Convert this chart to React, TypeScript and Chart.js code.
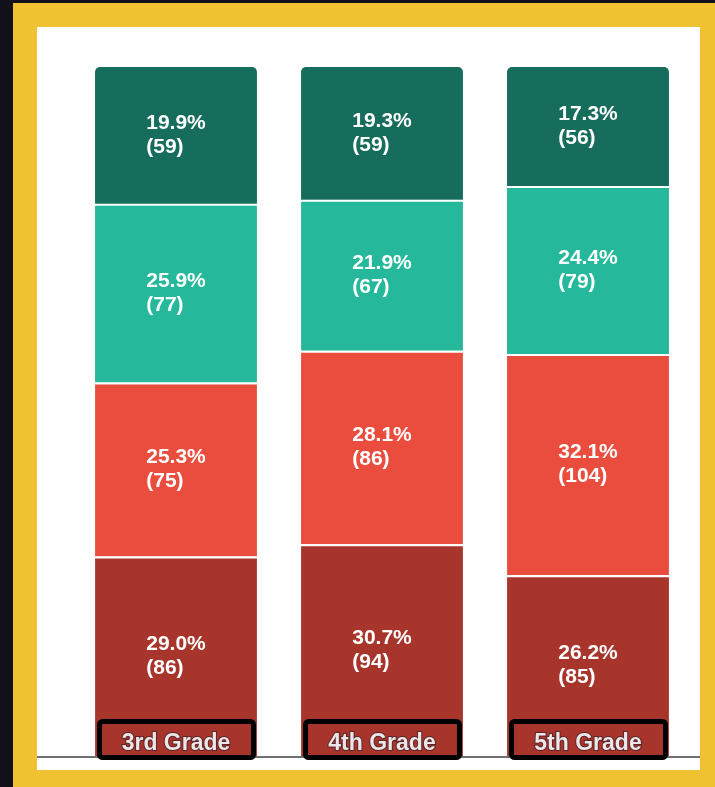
import React, { useEffect, useRef } from "react";
import { Chart, registerables } from "chart.js";

Chart.register(...registerables);

const categories = ["3rd Grade", "4th Grade", "5th Grade"];
const seriesNames = ["Level 1", "Level 2", "Level 3", "Level 4"];
// counts per grade, stacked bottom -> top
const level1Counts = [86, 94, 85];
const level2Counts = [75, 86, 104];
const level3Counts = [77, 67, 79];
const level4Counts = [59, 59, 56];
const seriesColors = ["#a8352b", "#ea4d3d", "#25b89a", "#176d5b"];

const allCounts = [level1Counts, level2Counts, level3Counts, level4Counts];
const totals = categories.map((_, i) => allCounts.reduce((s, arr) => s + arr[i], 0));
const pct = (arr: number[]) => arr.map((v, i) => (v / totals[i]) * 100);

const FONT = '"Liberation Sans", Arial, sans-serif';

const overlayPlugin = {
  id: "overlay",
  beforeDatasetsDraw(chart: any) {
    const { ctx, chartArea } = chart;
    ctx.save();
    ctx.strokeStyle = "#707070";
    ctx.lineWidth = 2;
    ctx.beginPath();
    ctx.moveTo(0, chartArea.bottom + 1);
    ctx.lineTo(chart.width, chartArea.bottom + 1);
    ctx.stroke();
    ctx.restore();
  },
  afterDatasetsDraw(chart: any) {
    const { ctx, chartArea } = chart;
    ctx.save();
    // value labels
    chart.data.datasets.forEach((ds: any, di: number) => {
      const meta = chart.getDatasetMeta(di);
      meta.data.forEach((el: any, i: number) => {
        const p = ds.data[i];
        const c = allCounts[di][i];
        const l1 = p.toFixed(1) + "%";
        const l2 = "(" + c + ")";
        ctx.font = "bold 21px " + FONT;
        const w = Math.max(ctx.measureText(l1).width, ctx.measureText(l2).width);
        const cy = (el.y + el.base) / 2;
        const x0 = el.x - w / 2;
        ctx.fillStyle = "#ffffff";
        ctx.textAlign = "left";
        ctx.textBaseline = "middle";
        ctx.fillText(l1, x0, cy - 12);
        ctx.fillText(l2, x0, cy + 12);
      });
    });
    // category boxes
    const meta0 = chart.getDatasetMeta(0);
    meta0.data.forEach((el: any, i: number) => {
      const left = el.x - el.width / 2 + 2;
      const right = el.x + el.width / 2 - 1;
      const top = chartArea.bottom - 37;
      const bottom = chartArea.bottom + 4;
      ctx.strokeStyle = "#000000";
      ctx.lineWidth = 5;
      ctx.beginPath();
      (ctx as any).roundRect(left + 2.5, top + 2.5, right - left - 5, bottom - top - 5, 3);
      ctx.stroke();
      ctx.font = "bold 23px " + FONT;
      ctx.textAlign = "center";
      ctx.textBaseline = "alphabetic";
      ctx.lineWidth = 2;
      ctx.strokeStyle = "rgba(60,30,40,0.7)";
      ctx.strokeText(categories[i], el.x, chartArea.bottom - 6);
      ctx.fillStyle = "#ece6e8";
      ctx.fillText(categories[i], el.x, chartArea.bottom - 6);
    });
    ctx.restore();
  },
};

export default function App() {
  const ref = useRef<HTMLCanvasElement>(null);
  useEffect(() => {
    if (!ref.current) return;
    const datasets = allCounts.map((arr, di) => ({
      label: seriesNames[di],
      data: pct(arr),
      backgroundColor: seriesColors[di],
      borderColor: "#ffffff",
      borderWidth: di < 3 ? { top: 2, left: 0, right: 0, bottom: 0 } : 0,
      borderSkipped: "start",
      borderRadius: di === 3 ? { topLeft: 5, topRight: 5, bottomLeft: 0, bottomRight: 0 } : 0,
      categoryPercentage: 1,
      barPercentage: 0.786,
    }));
    const chart = new Chart(ref.current, {
      type: "bar",
      data: { labels: categories, datasets: datasets as any },
      options: {
        animation: false,
        responsive: false,
        maintainAspectRatio: false,
        layout: { padding: { left: 36, right: 9, top: 40, bottom: 14 } },
        plugins: { legend: { display: false }, tooltip: { enabled: false } },
        scales: {
          x: { stacked: true, display: false },
          y: { stacked: true, display: false, min: 0, max: 100 },
        },
      },
      plugins: [overlayPlugin],
    });
    return () => chart.destroy();
  }, []);

  return (
    <div style={{ position: "fixed", left: 0, top: 0, width: 715, height: 787, background: "#12111b", overflow: "hidden" }}>
      <div style={{ position: "absolute", left: 13, top: 3, right: 0, bottom: 0, background: "#f0c232" }} />
      <div style={{ position: "absolute", left: 37, top: 27, width: 663, height: 743, background: "#ffffff" }}>
        <canvas ref={ref} width={663} height={743} style={{ display: "block", width: 663, height: 743 }} />
      </div>
    </div>
  );
}
